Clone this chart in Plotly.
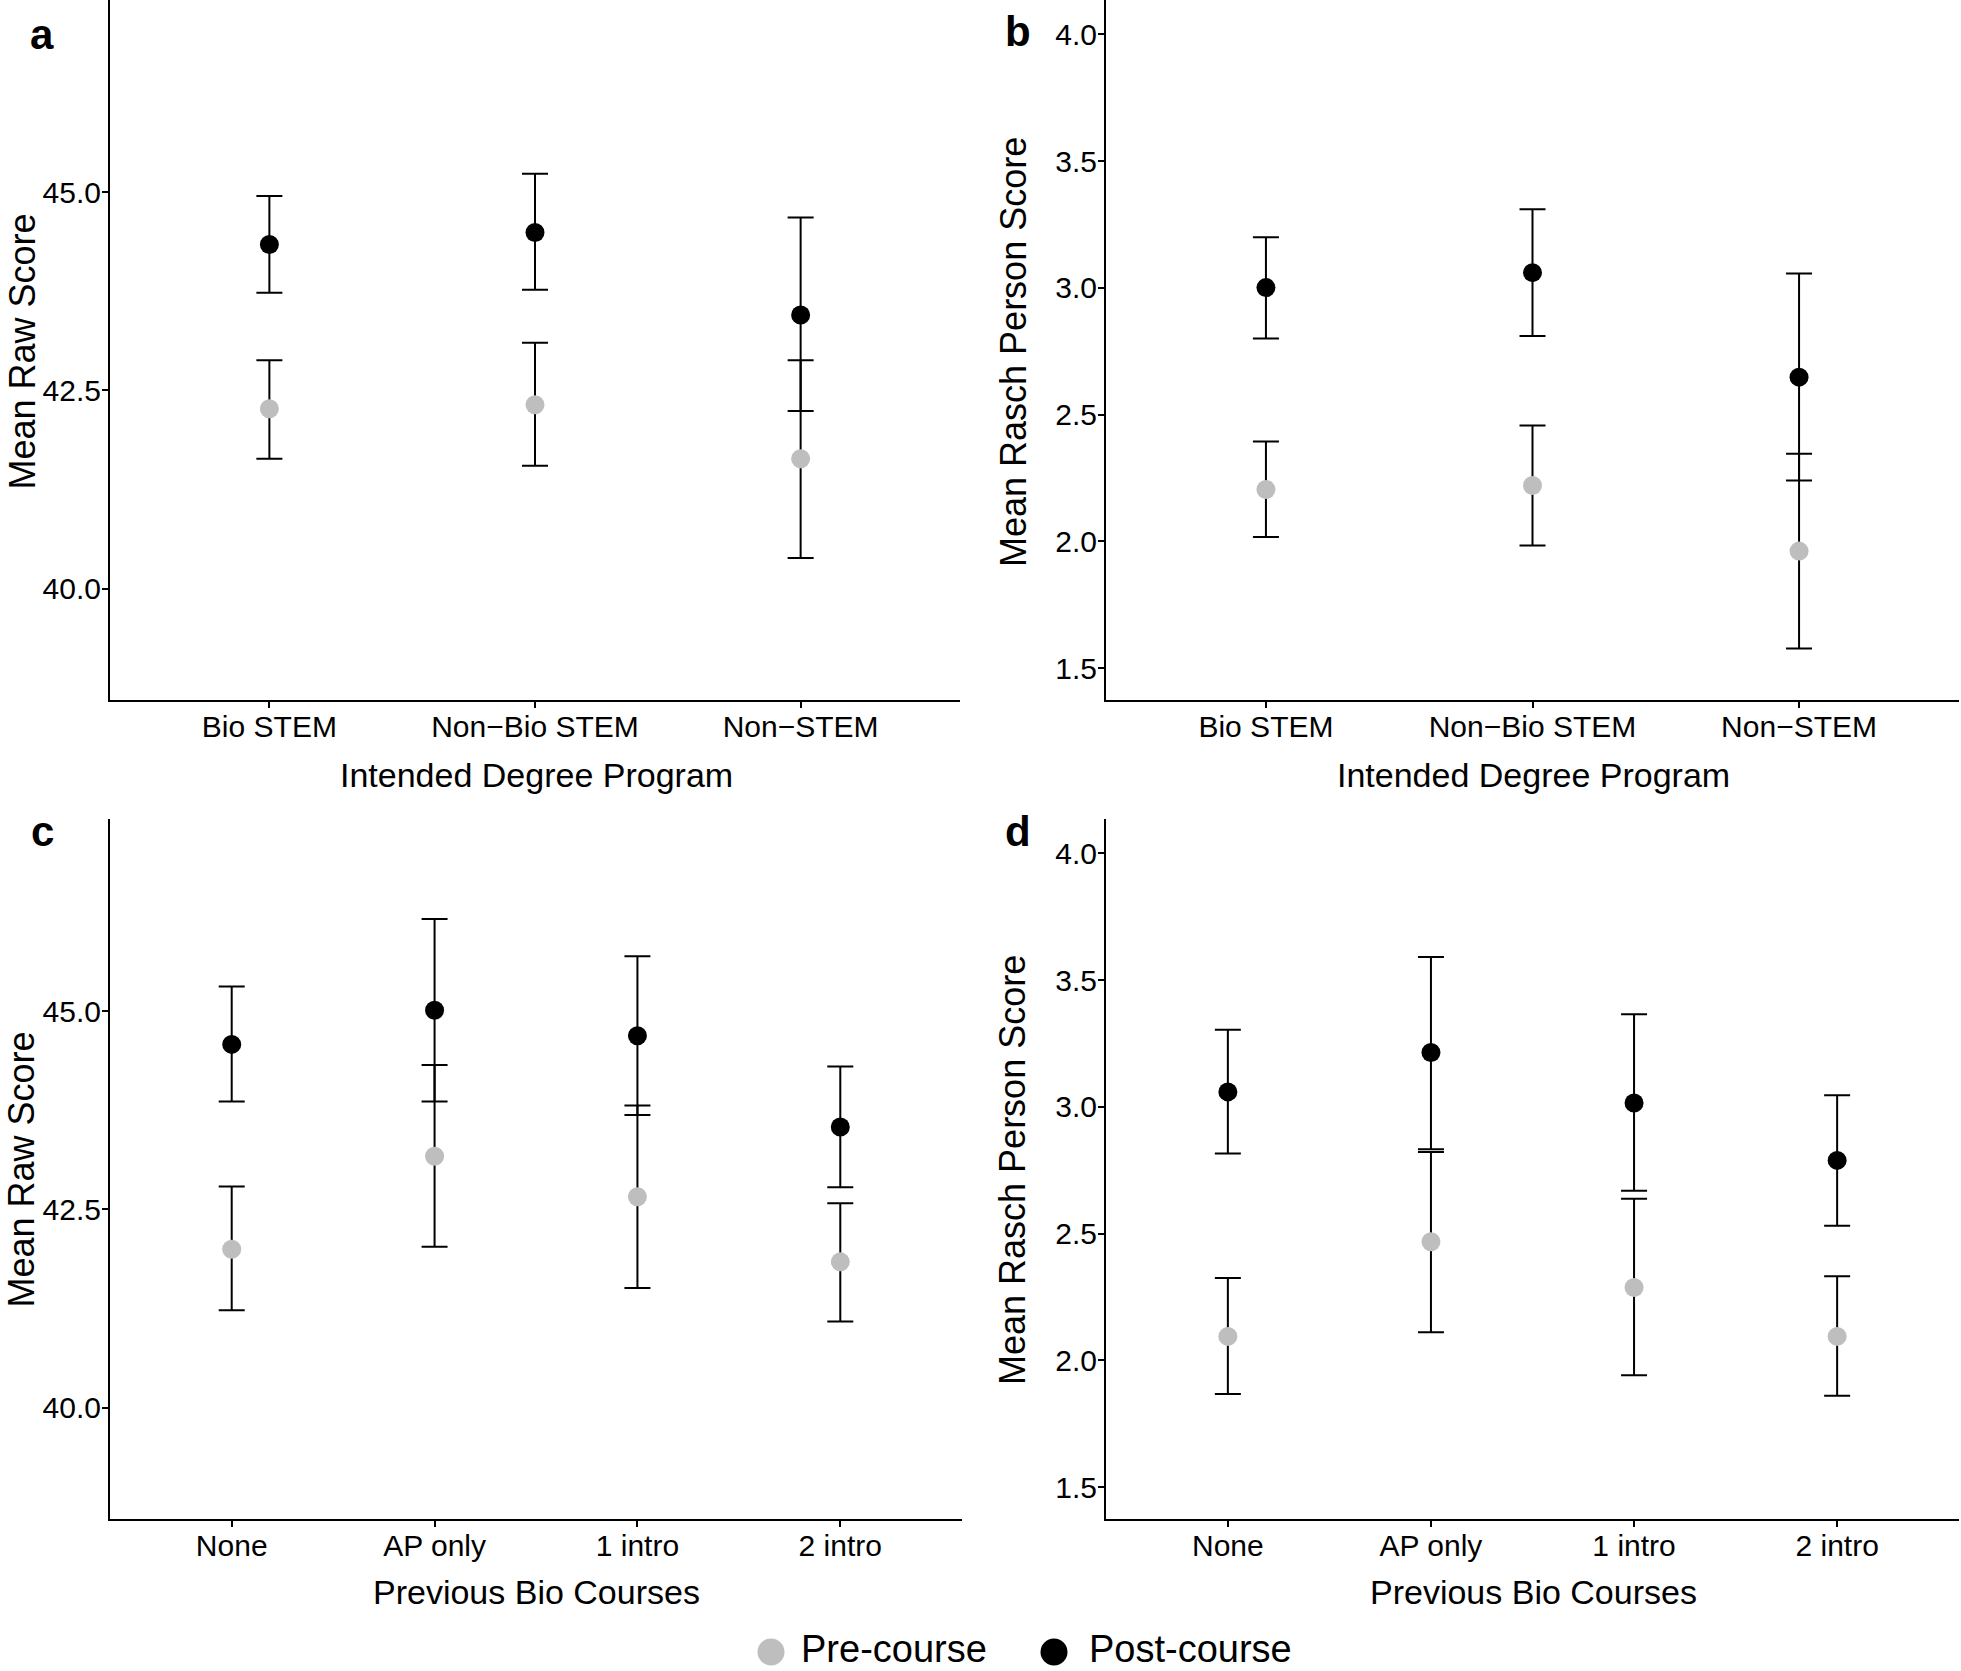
import plotly.graph_objects as go

W, H = 1961, 1671

# ---------------- data ----------------
degree_cats = ["Bio STEM", "Non\u2212Bio STEM", "Non\u2212STEM"]
course_cats = ["None", "AP only", "1 intro", "2 intro"]

# Panel a: Mean Raw Score by Intended Degree Program
a_pre_mean = [42.27, 42.32, 41.64]
a_pre_lo = [41.64, 41.55, 40.39]
a_pre_hi = [42.88, 43.10, 42.88]
a_post_mean = [44.34, 44.49, 43.45]
a_post_lo = [43.73, 43.77, 42.24]
a_post_hi = [44.95, 45.23, 44.68]

# Panel b: Mean Rasch Person Score by Intended Degree Program
b_pre_mean = [2.205, 2.221, 1.962]
b_pre_lo = [2.018, 1.984, 1.578]
b_pre_hi = [2.394, 2.457, 2.346]
b_post_mean = [3.001, 3.060, 2.648]
b_post_lo = [2.800, 2.810, 2.240]
b_post_hi = [3.200, 3.310, 3.057]

# Panel c: Mean Raw Score by Previous Bio Courses
c_pre_mean = [42.00, 43.17, 42.66, 41.84]
c_pre_lo = [41.23, 42.03, 41.51, 41.09]
c_pre_hi = [42.79, 44.32, 43.81, 42.58]
c_post_mean = [44.58, 45.01, 44.69, 43.54]
c_post_lo = [43.86, 43.86, 43.69, 42.78]
c_post_hi = [45.31, 46.16, 45.69, 44.30]

# Panel d: Mean Rasch Person Score by Previous Bio Courses
d_pre_mean = [2.095, 2.468, 2.288, 2.095]
d_pre_lo = [1.868, 2.111, 1.942, 1.861]
d_pre_hi = [2.325, 2.822, 2.638, 2.332]
d_post_mean = [3.059, 3.214, 3.015, 2.789]
d_post_lo = [2.816, 2.833, 2.669, 2.531]
d_post_hi = [3.304, 3.591, 3.365, 3.046]

raw_ticks = [40.0, 42.5, 45.0]
rasch_ticks = [1.5, 2.0, 2.5, 3.0, 3.5, 4.0]

series_names = ["Pre-course", "Post-course"]
PRE_COLOR = "#BEBEBE"
POST_COLOR = "#000000"
FONT = "Liberation Sans, Arial, Helvetica, sans-serif"

fig = go.Figure()


def add_panel(idx, cats, pre, post):
    xa = "x" if idx == 1 else f"x{idx}"
    ya = "y" if idx == 1 else f"y{idx}"
    for (mean, lo, hi), color in ((pre, PRE_COLOR), (post, POST_COLOR)):
        fig.add_trace(go.Scatter(
            x=cats, y=mean, mode="markers", xaxis=xa, yaxis=ya,
            marker=dict(size=19, color=color, line=dict(width=0)),
            error_y=dict(type="data", symmetric=False,
                         array=[h - m for h, m in zip(hi, mean)],
                         arrayminus=[m - l for m, l in zip(mean, lo)],
                         color="black", thickness=2, width=13),
            showlegend=False, cliponaxis=False,
        ))


add_panel(1, degree_cats, (a_pre_mean, a_pre_lo, a_pre_hi), (a_post_mean, a_post_lo, a_post_hi))
add_panel(2, degree_cats, (b_pre_mean, b_pre_lo, b_pre_hi), (b_post_mean, b_post_lo, b_post_hi))
add_panel(3, course_cats, (c_pre_mean, c_pre_lo, c_pre_hi), (c_post_mean, c_post_lo, c_post_hi))
add_panel(4, course_cats, (d_pre_mean, d_pre_lo, d_pre_hi), (d_post_mean, d_post_lo, d_post_hi))


def px_x(p):
    return p / W


def px_y(p):
    return (H - p) / H


axis_common = dict(showline=True, linewidth=2, linecolor="black", ticks="outside",
                   ticklen=6, tickwidth=2, tickcolor="black", showgrid=False,
                   zeroline=False, mirror=False,
                   tickfont=dict(family=FONT, size=30, color="black"))

dom = {
    1: ([110, 960], [0, 700]),
    2: ([1106, 1959], [0, 700]),
    3: ([110, 962], [819, 1519]),
    4: ([1106, 1959], [819, 1519]),
}

layout_axes = {}
for i in range(1, 5):
    (x0, x1), (ytop, ybot) = dom[i]
    xk = "xaxis" if i == 1 else f"xaxis{i}"
    yk = "yaxis" if i == 1 else f"yaxis{i}"
    ncat = 3 if i <= 2 else 4
    layout_axes[xk] = dict(axis_common, domain=[px_x(x0), px_x(x1)],
                           anchor="y" if i == 1 else f"y{i}",
                           type="category", range=[-0.6, ncat - 1 + 0.6],
                           ticklabelstandoff=-7)
    if i in (1, 3):
        yr = [38.6, 47.42]
        tv = raw_ticks
    else:
        yr = [1.375, 4.135]
        tv = rasch_ticks
    layout_axes[yk] = dict(axis_common, domain=[px_y(ybot), px_y(ytop)],
                           anchor="x" if i == 1 else f"x{i}",
                           range=yr, tickvals=tv, ticktext=[f"{v:.1f}" for v in tv],
                           ticklabelstandoff=-5)

annotations = []
# panel letters
for lab, x, y in (("a", 42, 35), ("b", 1018, 31), ("c", 42, 831), ("d", 1018, 831)):
    annotations.append(dict(text=f"<b>{lab}</b>", x=px_x(x), y=px_y(y), xref="paper", yref="paper",
                            showarrow=False, xanchor="center", yanchor="middle", borderpad=0,
                            font=dict(family=FONT, size=42, color="black")))
# y titles
for txt, x, y, anc in (("Mean Raw Score", 0, 352, "left"), ("Mean Rasch Person Score", 1013, 352, "center"),
                       ("Mean Raw Score", 0, 1170, "left"), ("Mean Rasch Person Score", 1013, 1170, "center")):
    annotations.append(dict(text=txt, x=px_x(x), y=px_y(y), xref="paper", yref="paper",
                            showarrow=False, xanchor=anc, yanchor="middle", textangle=-90,
                            borderpad=0, font=dict(family=FONT, size=36, color="black")))
# x titles
for txt, x, y in (("Intended Degree Program", 536, 775), ("Intended Degree Program", 1533, 775),
                  ("Previous Bio Courses", 536, 1592), ("Previous Bio Courses", 1533, 1592)):
    annotations.append(dict(text=txt, x=px_x(x), y=px_y(y), xref="paper", yref="paper",
                            showarrow=False, xanchor="center", yanchor="middle", borderpad=0,
                            font=dict(family=FONT, size=34, color="black")))

# custom legend (bottom centre)
shapes = []
for name, color, mx, tx in ((series_names[0], PRE_COLOR, 771, 800),
                            (series_names[1], POST_COLOR, 1054, 1088)):
    shapes.append(dict(type="circle", xref="paper", yref="paper",
                       xsizemode="pixel", ysizemode="pixel",
                       xanchor=px_x(mx), yanchor=px_y(1652),
                       x0=-13.5, x1=13.5, y0=-13.5, y1=13.5,
                       fillcolor=color, line=dict(width=0)))
    annotations.append(dict(text=name, x=px_x(tx), y=px_y(1649), xref="paper", yref="paper",
                            showarrow=False, xanchor="left", yanchor="middle", borderpad=0,
                            font=dict(family=FONT, size=38, color="black")))

fig.update_layout(
    width=W, height=H,
    margin=dict(l=0, r=0, t=0, b=0),
    paper_bgcolor="white", plot_bgcolor="white",
    showlegend=False,
    font=dict(family=FONT, color="black"),
    annotations=annotations, shapes=shapes,
    **layout_axes,
)

fig.write_html("out.html", config={"displayModeBar": False},
               post_script="document.body.style.margin='0';")
